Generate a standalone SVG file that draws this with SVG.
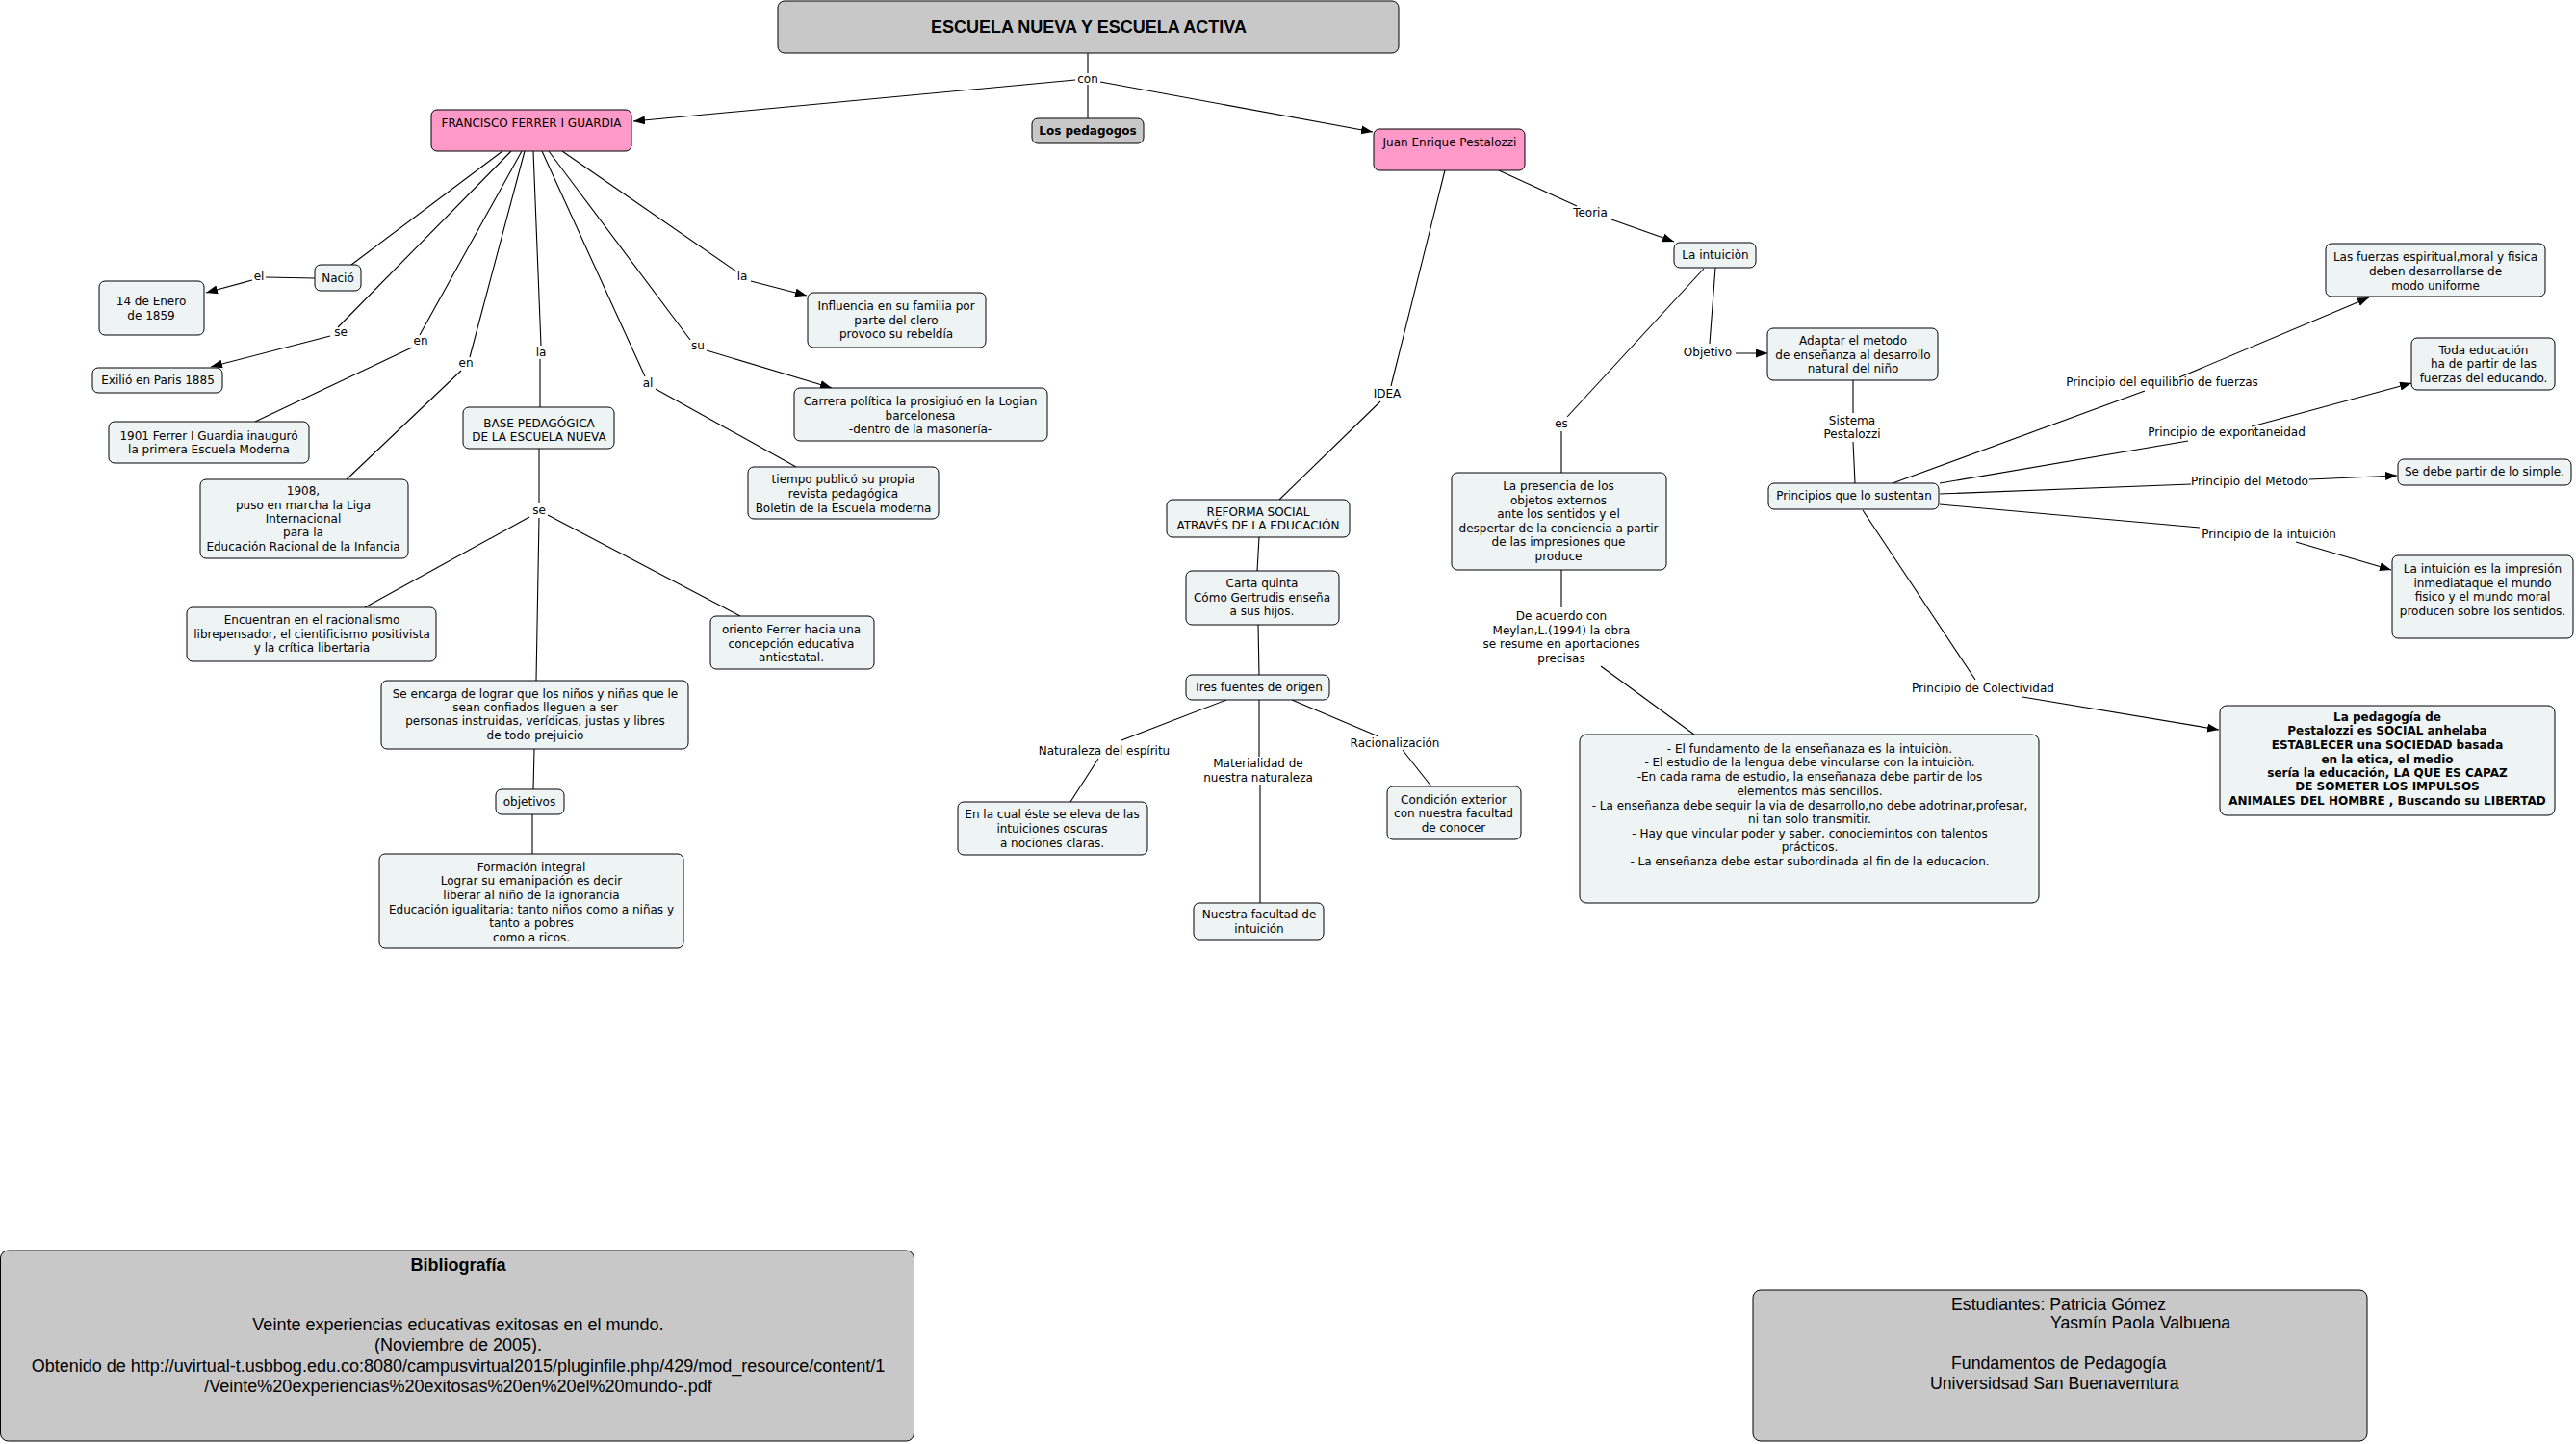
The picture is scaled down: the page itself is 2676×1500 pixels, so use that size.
<svg xmlns="http://www.w3.org/2000/svg" width="2676" height="1500" viewBox="0 0 2676 1500">
<style>
.n{fill:#eef3f4;stroke:#000;stroke-width:1}
.p{fill:#ff99c8;stroke:#000;stroke-width:1}
.g{fill:#c8c8c8;stroke:#000;stroke-width:1}
.t{font-family:"DejaVu Sans",Verdana,sans-serif;font-size:12px;text-anchor:middle;fill:#000}
.b{font-weight:bold}
.a{font-family:"Liberation Sans",Arial,sans-serif;font-size:17.7px;fill:#000}
.c line{stroke:#000;stroke-width:1.1}
.c line.ar{marker-end:url(#ah)}
</style>
<defs>
<marker id="ah" markerUnits="userSpaceOnUse" markerWidth="13" markerHeight="10" refX="12" refY="4.5" orient="auto">
<path d="M0,0 L12,4.5 L0,9 z" fill="#000"/>
</marker>
</defs>
<rect width="2676" height="1500" fill="#fff"/>

<g id="connectors" class="c">
<line x1="1130" y1="55" x2="1130" y2="76"/>
<line x1="1130" y1="88" x2="1130" y2="123"/>
<line class="ar" x1="1117" y1="83" x2="658" y2="126"/>
<line class="ar" x1="1143" y1="85" x2="1426" y2="137"/>
<line x1="522" y1="157" x2="365" y2="275"/>
<line x1="327" y1="289" x2="276" y2="288"/>
<line class="ar" x1="262" y1="291" x2="214" y2="304"/>
<line x1="531" y1="157" x2="351" y2="340"/>
<line class="ar" x1="343" y1="349" x2="219" y2="381"/>
<line x1="542" y1="157" x2="436" y2="348"/>
<line x1="428" y1="361" x2="265" y2="438"/>
<line x1="545" y1="157" x2="488" y2="371"/>
<line x1="479" y1="385" x2="360" y2="498"/>
<line x1="554" y1="157" x2="562" y2="359"/>
<line x1="561" y1="373" x2="561" y2="423"/>
<line x1="563" y1="157" x2="670" y2="391"/>
<line x1="681" y1="404" x2="827" y2="485"/>
<line x1="570" y1="157" x2="717" y2="353"/>
<line class="ar" x1="734" y1="364" x2="864" y2="403"/>
<line x1="584" y1="157" x2="765" y2="282"/>
<line class="ar" x1="780" y1="292" x2="838" y2="307"/>
<line x1="560" y1="466" x2="560" y2="523"/>
<line x1="550" y1="537" x2="379" y2="631"/>
<line x1="569" y1="535" x2="769" y2="640"/>
<line x1="560" y1="538" x2="557" y2="707"/>
<line x1="555" y1="778" x2="554" y2="820"/>
<line x1="553" y1="846" x2="553" y2="887"/>
<line x1="1501" y1="177" x2="1445" y2="401"/>
<line x1="1434" y1="417" x2="1329" y2="519"/>
<line x1="1557" y1="177" x2="1638" y2="214"/>
<line class="ar" x1="1674" y1="228" x2="1739" y2="251"/>
<line x1="1308" y1="558" x2="1306" y2="593"/>
<line x1="1307" y1="649" x2="1308" y2="701"/>
<line x1="1274" y1="727" x2="1165" y2="769"/>
<line x1="1141" y1="788" x2="1112" y2="833"/>
<line x1="1308" y1="727" x2="1308" y2="786"/>
<line x1="1309" y1="815" x2="1309" y2="938"/>
<line x1="1342" y1="727" x2="1432" y2="765"/>
<line x1="1457" y1="779" x2="1487" y2="817"/>
<line x1="1782" y1="278" x2="1776" y2="357"/>
<line class="ar" x1="1803" y1="367" x2="1836" y2="367"/>
<line x1="1770" y1="279" x2="1628" y2="433"/>
<line x1="1622" y1="448" x2="1622" y2="491"/>
<line x1="1925" y1="395" x2="1925" y2="429"/>
<line x1="1925" y1="459" x2="1927" y2="502"/>
<line x1="1622" y1="592" x2="1622" y2="631"/>
<line x1="1663" y1="692" x2="1760" y2="763"/>
<line x1="1966" y1="502" x2="2228" y2="406"/>
<line class="ar" x1="2264" y1="392" x2="2461" y2="309"/>
<line x1="2015" y1="502" x2="2273" y2="458"/>
<line class="ar" x1="2339" y1="443" x2="2505" y2="398"/>
<line x1="2015" y1="513" x2="2276" y2="503"/>
<line class="ar" x1="2399" y1="498" x2="2490" y2="494"/>
<line x1="2015" y1="524" x2="2285" y2="548"/>
<line class="ar" x1="2385" y1="563" x2="2484" y2="592"/>
<line x1="1935" y1="530" x2="2052" y2="706"/>
<line class="ar" x1="2101" y1="724" x2="2305" y2="758"/>
</g>

<g id="labels" class="t">
<text x="1130" y="86">con</text>
<text x="269" y="291">el</text>
<text x="354" y="349">se</text>
<text x="437" y="358">en</text>
<text x="484" y="381">en</text>
<text x="562" y="370">la</text>
<text x="673" y="402">al</text>
<text x="725" y="363">su</text>
<text x="771" y="291">la</text>
<text x="560" y="534">se</text>
<text x="1441" y="413">IDEA</text>
<text x="1652" y="225">Teoria</text>
<text x="1774" y="370">Objetivo</text>
<text x="1622" y="444">es</text>
<text x="1924" y="441">Sistema</text>
<text x="1924" y="455">Pestalozzi</text>
<text x="1622" y="644">De acuerdo con</text>
<text x="1622" y="658.5">Meylan,L.(1994) la obra</text>
<text x="1622" y="673">se resume en aportaciones</text>
<text x="1622" y="687.5">precisas</text>
<text x="1147" y="784">Naturaleza del espíritu</text>
<text x="1307" y="797">Materialidad de</text>
<text x="1307" y="812">nuestra naturaleza</text>
<text x="1449" y="776">Racionalización</text>
<text x="2246" y="401">Principio del equilibrio de fuerzas</text>
<text x="2313" y="453">Principio de expontaneidad</text>
<text x="2337" y="504">Principio del Método</text>
<text x="2357" y="559">Principio de la intuición</text>
<text x="2060" y="719">Principio de Colectividad</text>
</g>

<g id="n-title"><rect class="g" x="808" y="1" width="645" height="54" rx="7"/><text x="1131" y="34" style="font-family:'Liberation Sans',Arial,sans-serif;font-size:18px;font-weight:bold;text-anchor:middle">ESCUELA NUEVA Y ESCUELA ACTIVA</text></g>
<g id="n-pedagogos"><rect class="g" x="1072" y="123" width="116" height="26" rx="6"/><text class="t b" x="1130" y="140">Los pedagogos</text></g>
<g id="n-ferrer"><rect class="p" x="448" y="114" width="208" height="43" rx="6"/><text class="t" x="552" y="132">FRANCISCO FERRER I GUARDIA</text></g>
<g id="n-pestalozzi"><rect class="p" x="1427" y="134" width="157" height="43" rx="6"/><text class="t" x="1506" y="152">Juan Enrique Pestalozzi</text></g>
<g id="n-nacio"><rect class="n" x="327" y="275" width="48" height="27" rx="6"/><text class="t" x="351" y="293">Nació</text></g>
<g id="n-1859"><rect class="n" x="103" y="292" width="109" height="56" rx="6"/><text class="t" x="157"><tspan x="157" y="317">14 de Enero</tspan><tspan x="157" y="332">de 1859</tspan></text></g>
<g id="n-exilio"><rect class="n" x="96" y="382" width="135" height="26" rx="6"/><text class="t" x="164" y="399">Exilió en Paris 1885</text></g>
<g id="n-1901"><rect class="n" x="113" y="438" width="208" height="43" rx="6"/><text class="t"><tspan x="217" y="457">1901 Ferrer I Guardia inauguró</tspan><tspan x="217" y="471">la primera Escuela Moderna</tspan></text></g>
<g id="n-1908"><rect class="n" x="208" y="498" width="216" height="82" rx="6"/><text class="t"><tspan x="315" y="514">1908,</tspan><tspan x="315" y="529">puso en marcha la Liga</tspan><tspan x="315" y="543">Internacional</tspan><tspan x="315" y="557">para la</tspan><tspan x="315" y="572">Educación Racional de la Infancia</tspan></text></g>
<g id="n-base"><rect class="n" x="481" y="423" width="157" height="43" rx="6"/><text class="t"><tspan x="560" y="444">BASE PEDAGÓGICA</tspan><tspan x="560" y="458">DE LA ESCUELA NUEVA</tspan></text></g>
<g id="n-influencia"><rect class="n" x="839" y="304" width="185" height="57" rx="6"/><text class="t"><tspan x="931" y="322">Influencia en su familia por</tspan><tspan x="931" y="337">parte del clero</tspan><tspan x="931" y="351">provoco su rebeldía</tspan></text></g>
<g id="n-carrera"><rect class="n" x="825" y="403" width="263" height="55" rx="6"/><text class="t"><tspan x="956" y="421">Carrera política la prosigiuó en la Logian</tspan><tspan x="956" y="436">barcelonesa</tspan><tspan x="956" y="450">-dentro de la masonería-</tspan></text></g>
<g id="n-tiempo"><rect class="n" x="777" y="485" width="198" height="54" rx="6"/><text class="t"><tspan x="876" y="502">tiempo publicó su propia</tspan><tspan x="876" y="517">revista pedagógica</tspan><tspan x="876" y="532">Boletín de la Escuela moderna</tspan></text></g>
<g id="n-encuentran"><rect class="n" x="194" y="631" width="259" height="56" rx="6"/><text class="t"><tspan x="324" y="648">Encuentran en el racionalismo</tspan><tspan x="324" y="663">librepensador, el cientificismo positivista</tspan><tspan x="324" y="677">y la crítica libertaria</tspan></text></g>
<g id="n-oriento"><rect class="n" x="738" y="640" width="170" height="55" rx="6"/><text class="t"><tspan x="822" y="658">oriento Ferrer hacia una</tspan><tspan x="822" y="673">concepción educativa</tspan><tspan x="822" y="687">antiestatal.</tspan></text></g>
<g id="n-encarga"><rect class="n" x="396" y="707" width="319" height="71" rx="6"/><text class="t"><tspan x="556" y="725">Se encarga de lograr que los niños y niñas que le</tspan><tspan x="556" y="739">sean confiados lleguen a ser</tspan><tspan x="556" y="753">personas instruidas, verídicas, justas y libres</tspan><tspan x="556" y="768">de todo prejuicio</tspan></text></g>
<g id="n-objetivos"><rect class="n" x="515" y="820" width="71" height="26" rx="6"/><text class="t" x="550" y="837">objetivos</text></g>
<g id="n-formacion"><rect class="n" x="394" y="887" width="316" height="98" rx="6"/><text class="t"><tspan x="552" y="905">Formación integral</tspan><tspan x="552" y="919">Lograr su emanipación es decir</tspan><tspan x="552" y="934">liberar al niño de la ignorancia</tspan><tspan x="552" y="949">Educación igualitaria: tanto niños como a niñas y</tspan><tspan x="552" y="963">tanto a pobres</tspan><tspan x="552" y="978">como a ricos.</tspan></text></g>
<g id="n-reforma"><rect class="n" x="1212" y="519" width="190" height="39" rx="6"/><text class="t"><tspan x="1307" y="536">REFORMA SOCIAL</tspan><tspan x="1307" y="550">ATRAVÉS DE LA EDUCACIÓN</tspan></text></g>
<g id="n-carta"><rect class="n" x="1232" y="593" width="159" height="56" rx="6"/><text class="t"><tspan x="1311" y="610">Carta quinta</tspan><tspan x="1311" y="625">Cómo Gertrudis enseña</tspan><tspan x="1311" y="639">a sus hijos.</tspan></text></g>
<g id="n-tres"><rect class="n" x="1232" y="701" width="149" height="26" rx="6"/><text class="t" x="1307" y="718">Tres fuentes de origen</text></g>
<g id="n-enlacual"><rect class="n" x="995" y="833" width="197" height="55" rx="6"/><text class="t"><tspan x="1093" y="850">En la cual éste se eleva de las</tspan><tspan x="1093" y="865">intuiciones oscuras</tspan><tspan x="1093" y="880">a nociones claras.</tspan></text></g>
<g id="n-nuestra"><rect class="n" x="1240" y="938" width="135" height="38" rx="6"/><text class="t"><tspan x="1308" y="954">Nuestra facultad de</tspan><tspan x="1308" y="969">intuición</tspan></text></g>
<g id="n-condicion"><rect class="n" x="1441" y="817" width="139" height="55" rx="6"/><text class="t"><tspan x="1510" y="835">Condición exterior</tspan><tspan x="1510" y="849">con nuestra facultad</tspan><tspan x="1510" y="864">de conocer</tspan></text></g>
<g id="n-intuicion"><rect class="n" x="1739" y="252" width="85" height="26" rx="6"/><text class="t" x="1782" y="269">La intuiciòn</text></g>
<g id="n-adaptar"><rect class="n" x="1836" y="341" width="177" height="54" rx="6"/><text class="t"><tspan x="1925" y="358">Adaptar el metodo</tspan><tspan x="1925" y="373">de enseñanza al desarrollo</tspan><tspan x="1925" y="387">natural del niño</tspan></text></g>
<g id="n-principios"><rect class="n" x="1837" y="502" width="177" height="27" rx="6"/><text class="t" x="1926" y="519">Principios que lo sustentan</text></g>
<g id="n-presencia"><rect class="n" x="1508" y="491" width="223" height="101" rx="6"/><text class="t"><tspan x="1619" y="509">La presencia de los</tspan><tspan x="1619" y="524">objetos externos</tspan><tspan x="1619" y="538">ante los sentidos y el</tspan><tspan x="1619" y="553">despertar de la conciencia a partir</tspan><tspan x="1619" y="567">de las impresiones que</tspan><tspan x="1619" y="582">produce</tspan></text></g>
<g id="n-lista"><rect class="n" x="1641" y="763" width="477" height="175" rx="7"/><text class="t"><tspan x="1880" y="782">- El fundamento de la enseñanaza es la intuiciòn.</tspan><tspan x="1880" y="796">- El estudio de la lengua debe vincularse con la intuiciòn.</tspan><tspan x="1880" y="811">-En cada rama de estudio, la enseñanaza debe partir de los</tspan><tspan x="1880" y="826">elementos más sencillos.</tspan><tspan x="1880" y="841">- La enseñanza debe seguir la via de desarrollo,no debe adotrinar,profesar,</tspan><tspan x="1880" y="855">ni tan solo transmitir.</tspan><tspan x="1880" y="870">- Hay que vincular poder y saber, conociemintos con talentos</tspan><tspan x="1880" y="884">prácticos.</tspan><tspan x="1880" y="899">- La enseñanza debe estar subordinada al fin de la educacíon.</tspan></text></g>
<g id="n-fuerzas"><rect class="n" x="2416" y="253" width="228" height="55" rx="6"/><text class="t"><tspan x="2530" y="271">Las fuerzas espiritual,moral y fisica</tspan><tspan x="2530" y="286">deben desarrollarse de</tspan><tspan x="2530" y="301">modo uniforme</tspan></text></g>
<g id="n-toda"><rect class="n" x="2505" y="351" width="149" height="54" rx="6"/><text class="t"><tspan x="2580" y="368">Toda educación</tspan><tspan x="2580" y="382">ha de partir de las</tspan><tspan x="2580" y="397">fuerzas del educando.</tspan></text></g>
<g id="n-simple"><rect class="n" x="2491" y="477" width="180" height="27" rx="6"/><text class="t" x="2581" y="494">Se debe partir de lo simple.</text></g>
<g id="n-impresion"><rect class="n" x="2485" y="577" width="188" height="86" rx="6"/><text class="t"><tspan x="2579" y="595">La intuición es la impresión</tspan><tspan x="2579" y="610">inmediataque el mundo</tspan><tspan x="2579" y="624">fisico y el mundo moral</tspan><tspan x="2579" y="639">producen sobre los sentidos.</tspan></text></g>
<g id="n-social"><rect class="n" x="2306" y="733" width="348" height="114" rx="7"/><text class="t b"><tspan x="2480" y="749">La pedagogía de</tspan><tspan x="2480" y="763">Pestalozzi es SOCIAL anhelaba</tspan><tspan x="2480" y="778">ESTABLECER una SOCIEDAD basada</tspan><tspan x="2480" y="793">en la etica, el medio</tspan><tspan x="2480" y="807">sería la educación, LA QUE ES CAPAZ</tspan><tspan x="2480" y="821">DE SOMETER LOS IMPULSOS</tspan><tspan x="2480" y="836">ANIMALES DEL HOMBRE , Buscando su LIBERTAD</tspan></text></g>
<g id="n-bibliografia"><rect class="g" x="0.5" y="1299" width="949" height="198" rx="8"/><text class="a" style="text-anchor:middle;font-size:18px"><tspan x="476" y="1320" style="font-weight:bold">Bibliografía</tspan><tspan x="476" y="1382">Veinte experiencias educativas exitosas en el mundo.</tspan><tspan x="476" y="1403">(Noviembre de 2005).</tspan><tspan x="476" y="1425">Obtenido de http://uvirtual-t.usbbog.edu.co:8080/campusvirtual2015/pluginfile.php/429/mod_resource/content/1</tspan><tspan x="476" y="1446">/Veinte%20experiencias%20exitosas%20en%20el%20mundo-.pdf</tspan></text></g>
<g id="n-estudiantes"><rect class="g" x="1821" y="1340" width="638" height="157" rx="8"/><text class="a"><tspan x="2027" y="1361">Estudiantes: Patricia Gómez</tspan><tspan x="2130" y="1380">Yasmín Paola Valbuena</tspan><tspan x="2027" y="1422">Fundamentos de Pedagogía</tspan><tspan x="2005" y="1443">Universidsad San Buenavemtura</tspan></text></g>
</svg>
